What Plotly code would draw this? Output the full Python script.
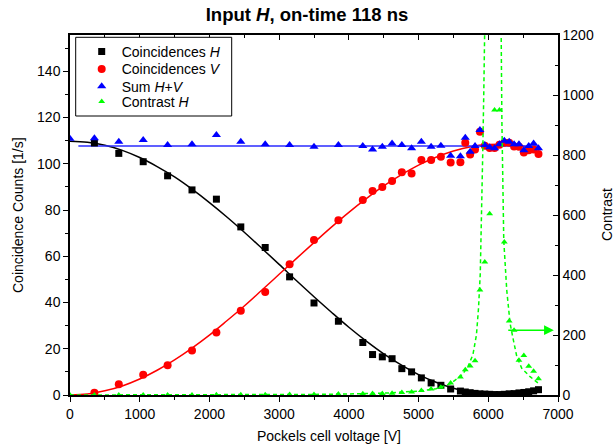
import plotly.graph_objects as go

# ---------------- data ----------------
voltage = [0, 350, 700, 1050, 1400, 1750, 2100, 2450, 2800, 3150, 3500, 3850, 4200,
           4340, 4480, 4620, 4760, 4900, 5040, 5180, 5320, 5460, 5600,
           5670, 5740, 5810, 5880, 5950, 6020, 6090, 6160, 6230, 6300, 6370,
           6440, 6510, 6580, 6650, 6720]

coinc_h = [None, 109.0, 104.5, 100.9, 94.8, 88.7, 84.7, 72.7, 63.8, 51.1, 39.8, 31.9, 22.7,
           17.5, 16.5, 15.7, 11.4, 10.0, 7.4, 5.2, 4.2, 2.6, 1.7,
           1.3, 1.0, 0.7, 0.5, 0.4, 0.3, 0.2, 0.2, 0.3, 0.5, 0.6,
           0.9, 1.1, 1.4, 1.8, 2.3]

coinc_v = [None, 1.0, 4.6, 8.8, 12.9, 19.3, 27.0, 36.4, 44.6, 56.6, 67.0, 75.6, 84.3,
           88.2, 90.0, 92.6, 96.3, 95.8, 101.6, 101.6, 103.0, 100.6, 100.7,
           109.1, 104.0, 106.2, 113.9, 107.8, 106.8, 106.8, 108.2, 109.1, 109.1, 107.5,
           107.4, 104.9, 105.9, 106.2, 104.2]

sum_hv = [110.8, 111.0, 109.5, 110.3, 108.1, 108.5, 112.4, 109.5, 108.5, 108.1, 107.4, 108.1, 107.7,
          106.2, 107.4, 108.8, 108.1, 106.7, 109.5, 107.4, 107.8, 103.5, 103.3,
          111.3, 105.2, 107.7, 114.6, 108.1, 107.1, 106.7, 108.5, 110.0, 109.5, 108.5,
          108.5, 105.9, 107.7, 108.8, 106.7]

contrast_h = [0.0, 0.2, 0.3, 0.3, 0.3, 0.4, 0.5, 0.6, 1.0, 1.5, 2.0, 3.0, 4.0,
              5.0, 5.0, 6.0, 8.0, 10.0, 15.0, 20.0, 26.0, 40.0, 60.0,
              84.0, 97.0, 114.0, 350.0, 443.0, 604.0, 950.0, 950.0, 510.0, 247.0, 216.0,
              116.0, 132.0, 96.0, 79.0, 54.0]

# fitted curves, sampled by eye along the drawn lines
fit_v_axis = [0, 250, 500, 750, 1000, 1250, 1500, 1750, 2000, 2250, 2500, 2750, 3000,
              3250, 3500, 3750, 4000, 4250, 4500, 4750, 5000, 5250, 5500, 5750,
              6000, 6250, 6500, 6720]
fit_h = [109.8, 109.3, 108.0, 105.8, 102.7, 98.8, 94.3, 89.0, 83.2, 77.0, 70.4, 63.5, 56.5,
         49.4, 42.5, 35.8, 29.3, 23.3, 17.8, 13.0, 8.8, 5.5, 2.9, 1.2,
         0.4, 0.5, 1.5, 2.8]
fit_v = [0.0, 0.4, 1.8, 3.9, 6.9, 10.7, 15.2, 20.3, 25.9, 32.1, 38.5, 45.3, 52.2,
         59.1, 65.9, 72.6, 79.0, 84.9, 90.4, 95.2, 99.4, 102.8, 105.5, 107.4,
         108.3, 108.4, 107.6, 106.2]

fit_sum_v = [120, 6720]
fit_sum = [107.7, 107.7]

contrast_fit_left_v = [0, 1000, 2000, 3000, 3500, 4000, 4500, 5000, 5250, 5450, 5600,
                       5700, 5780, 5830, 5860, 5885, 5900, 5920, 5935, 5950, 5960]
contrast_fit_left = [0.0, 0.1, 0.5, 1.2, 2.0, 3.5, 6.0, 13.0, 21.0, 37.0, 62.0,
                     90.0, 135.0, 200.0, 290.0, 405.0, 540.0, 800.0, 1000.0, 1250.0, 1400.0]
contrast_fit_right_v = [6170, 6185, 6195, 6208, 6222, 6265, 6313, 6360, 6410, 6480, 6600, 6720]
contrast_fit_right = [1400.0, 1200.0, 914.0, 760.0, 515.0, 349.0, 238.0, 183.0, 127.0, 89.0, 61.0, 39.0]

arrow_from = (6265, 216)
arrow_to = (6940, 216)

legend_names = ["Coincidences <i>H</i>", "Coincidences <i>V</i>", "Sum <i>H</i>+<i>V</i>", "Contrast <i>H</i>"]

# ---------------- figure ----------------
FONT = "Liberation Sans, Arial, sans-serif"
GREEN = "#00ff00"
L, R, T, B = 70, 56, 35, 49
PW, PH = 614 - L - R, 444 - T - B


def px_x(p):
    return (p - L) / PW


def px_y(p):
    return (444 - B - p) / PH


fig = go.Figure()

# fit lines
fig.add_trace(go.Scatter(x=fit_v_axis, y=fit_h, mode="lines", line=dict(color="black", width=1.5, shape="spline"),
                         showlegend=False, hoverinfo="skip"))
fig.add_trace(go.Scatter(x=fit_v_axis, y=fit_v, mode="lines", line=dict(color="#ff0000", width=1.5, shape="spline"),
                         showlegend=False, hoverinfo="skip"))
fig.add_trace(go.Scatter(x=fit_sum_v, y=fit_sum, mode="lines", line=dict(color="#2b2bff", width=1.5),
                         showlegend=False, hoverinfo="skip"))

# contrast fit (right axis)
fig.add_trace(go.Scatter(x=contrast_fit_left_v, y=contrast_fit_left, mode="lines",
                         line=dict(color=GREEN, width=1.5, dash="4px,3px"),
                         xaxis="x2", yaxis="y2", showlegend=False, hoverinfo="skip"))
fig.add_trace(go.Scatter(x=contrast_fit_right_v, y=contrast_fit_right, mode="lines",
                         line=dict(color=GREEN, width=1.5, dash="4px,3px"),
                         xaxis="x2", yaxis="y2", showlegend=False, hoverinfo="skip"))

# data markers (each in its own legend so the rows can sit close together)
fig.add_trace(go.Scatter(x=voltage, y=coinc_h, mode="markers", name=legend_names[0], legend="legend",
                         marker=dict(symbol="square", size=7, color="black")))
fig.add_trace(go.Scatter(x=voltage, y=coinc_v, mode="markers", name=legend_names[1], legend="legend2",
                         marker=dict(symbol="circle", size=8, color="#ff0000")))
fig.add_trace(go.Scatter(x=voltage, y=sum_hv, mode="markers", name=legend_names[2], legend="legend3",
                         marker=dict(symbol="triangle-up", size=8, color="#0000ff")))
fig.add_trace(go.Scatter(x=voltage, y=contrast_h, mode="markers", name=legend_names[3], legend="legend4",
                         marker=dict(symbol="triangle-up", size=6, color=GREEN),
                         xaxis="x2", yaxis="y2"))

axis_common = dict(showline=True, linecolor="black", linewidth=1.5, showgrid=False, zeroline=False,
                   tickcolor="black", tickwidth=1, tickfont=dict(family=FONT, size=14, color="black"))

row_centers = [52, 69.3, 86.7, 102]
legends = {}
for i, yc in enumerate(row_centers):
    key = "legend" if i == 0 else f"legend{i + 1}"
    legends[key] = dict(x=px_x(81.7), y=px_y(yc), xanchor="left", yanchor="middle",
                        bgcolor="rgba(0,0,0,0)", borderwidth=0,
                        font=dict(family=FONT, size=14, color="black"))

fig.update_layout(
    width=614, height=444,
    margin=dict(l=L, r=R, t=T, b=B),
    paper_bgcolor="white", plot_bgcolor="white",
    font=dict(family=FONT, size=14, color="black"),
    title=dict(text="<b>Input <i>H</i>, on-time 118 ns</b>", x=0.5, xref="container", xanchor="center",
               y=1 - 15 / 444, yanchor="middle", font=dict(family=FONT, size=18.5, color="black")),
    xaxis=dict(range=[0, 7000], dtick=1000, tick0=0, ticks="outside", ticklen=5,
               minor=dict(dtick=500, ticks="outside", ticklen=3, tickcolor="black"),
               anchor="y", **axis_common),
    yaxis=dict(range=[0, 155.7], dtick=20, tick0=0, ticks="outside", ticklen=5,
               minor=dict(dtick=10, ticks="outside", ticklen=3, tickcolor="black"),
               anchor="x", **axis_common),
    xaxis2=dict(range=[0, 7000], dtick=1000, tick0=0, ticks="inside", ticklen=5, side="top",
                overlaying="x", anchor="y2", showticklabels=False,
                minor=dict(dtick=500, ticks="inside", ticklen=3, tickcolor="black"),
                **axis_common),
    yaxis2=dict(range=[0, 1200], dtick=200, tick0=0, ticks="inside", ticklen=5, side="right",
                overlaying="y", anchor="x2",
                minor=dict(dtick=100, ticks="inside", ticklen=3, tickcolor="black"),
                **axis_common),
    showlegend=True,
    **legends,
)

# legend frame
fig.add_shape(type="rect", xref="paper", yref="paper",
              x0=px_x(75.7), x1=px_x(231.7), y0=px_y(116), y1=px_y(37.3),
              line=dict(color="black", width=1), fillcolor="white", layer="above")

fig.add_annotation(text="Pockels cell voltage [V]", xref="paper", yref="paper",
                   x=px_x(329), y=px_y(436), xanchor="center", yanchor="middle",
                   showarrow=False, font=dict(family=FONT, size=14))
fig.add_annotation(text="Coincidence Counts [1/s]", xref="paper", yref="paper", textangle=-90,
                   x=px_x(18), y=0.5, xanchor="center", yanchor="middle",
                   showarrow=False, font=dict(family=FONT, size=14))
fig.add_annotation(text="Contrast", xref="paper", yref="paper", textangle=-90,
                   x=px_x(607), y=0.5, xanchor="center", yanchor="middle",
                   showarrow=False, font=dict(family=FONT, size=14))

fig.add_annotation(x=arrow_to[0], y=arrow_to[1], ax=arrow_from[0], ay=arrow_from[1],
                   xref="x2", yref="y2", axref="x2", ayref="y2", text="", showarrow=True,
                   arrowhead=2, arrowsize=1.3, arrowwidth=1.5, arrowcolor=GREEN)

fig.write_html("out.html")
